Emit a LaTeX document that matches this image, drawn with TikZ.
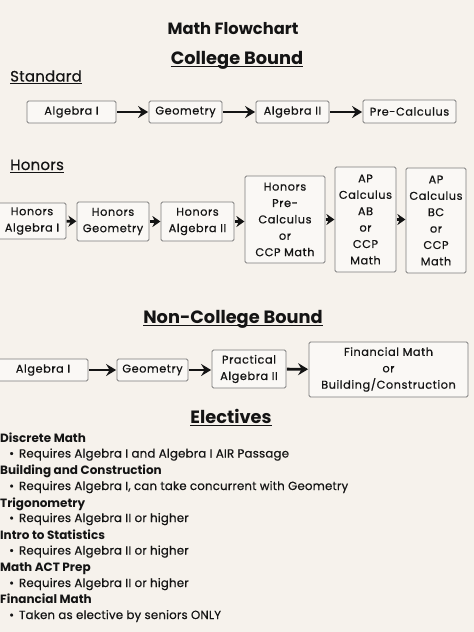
\documentclass[tikz,border=0pt]{standalone}
\usepackage{fontspec}
\setmainfont{Poppins}
\newfontfamily\boxfont[LetterSpace=5,FakeBold=0.6]{Poppins}
\newfontfamily\listfont[LetterSpace=1.5,FakeBold=0.5]{Poppins}
\usetikzlibrary{arrows.meta}
\definecolor{bgc}{RGB}{246,242,236}
\definecolor{boxfill}{RGB}{250,248,245}
\definecolor{boxline}{RGB}{125,125,125}
\definecolor{ink}{RGB}{20,20,20}
\tikzset{
  cbox/.style={draw=boxline, fill=boxfill, line width=0.8pt, rounded corners=1.5pt,
    align=center, inner sep=1pt, text=ink, font=\boxfont\fontsize{11.3}{16.4}\selectfont},
  flow/.style={-{Stealth[length=10pt,width=12pt,inset=3.5pt]}, line width=2.8pt, draw=ink, shorten <=0.5pt, shorten >=0.5pt},
  hflow/.style={-{Stealth[length=8pt,width=11pt,inset=2.5pt]}, line width=2.8pt, draw=ink, shorten <=0.2pt, shorten >=0.2pt},
  title/.style={font=\fontsize{16.3}{18}\bfseries\selectfont, text=ink, inner sep=0pt, anchor=base},
  head/.style={font=\fontsize{17.8}{20}\bfseries\selectfont, text=ink, inner sep=0pt, anchor=base},
  sub/.style={font=\listfont\fontsize{15}{17}\selectfont, text=ink, inner sep=0pt, anchor=base west},
  etitle/.style={font=\fontsize{12}{14}\bfseries\selectfont, text=ink, inner sep=0pt, anchor=base west},
  eitem/.style={font=\listfont\fontsize{11.8}{14}\selectfont, text=ink, inner sep=0pt, anchor=base west},
  uline/.style={draw=ink, line width=1pt},
  uthick/.style={draw=ink, line width=1.4pt}
}
\begin{document}
\begin{tikzpicture}[x=1pt,y=-1pt]
\fill[bgc] (0,0) rectangle (474,632);
\useasboundingbox (0,0) rectangle (474,632);

% titles
\node[title] (mt) at (233,34) {Math Flowchart};
\node[head] (cb) at (237,64) {College Bound};
\draw[uthick] ([yshift=-2.5pt]cb.base west) -- ([yshift=-2.5pt]cb.base east);
\node[sub] (std) at (10,81.5) {Standard};
\draw[uline] ([yshift=-2pt]std.base west) -- ([yshift=-2pt]std.base east);

% standard row
\node[cbox, minimum width=89pt, minimum height=22pt] (s1) at (71.5,112) {Algebra I};
\node[cbox, minimum width=73pt, minimum height=22pt] (s2) at (185.5,112) {Geometry};
\node[cbox, minimum width=73pt, minimum height=22pt] (s3) at (292.5,112) {Algebra II};
\node[cbox, minimum width=93pt, minimum height=23pt] (s4) at (409.5,111.5) {Pre-Calculus};
\draw[flow] (s1) -- (s2);
\draw[flow] (s2) -- (s3);
\draw[flow] (s3) -- (s4.west|-s3.east);

% honors
\node[sub] (hon) at (10,170) {Honors};
\draw[uline] ([yshift=-2pt]hon.base west) -- ([yshift=-2pt]hon.base east);

\node[cbox, minimum width=68pt, minimum height=36pt] (h1) at (32,221) {Honors\\Algebra I};
\node[cbox, minimum width=72pt, minimum height=39pt] (h2) at (113,221.5) {Honors\\Geometry};
\node[cbox, minimum width=73pt, minimum height=39pt] (h3) at (197.5,221.5) {Honors\\Algebra II};
\node[cbox, minimum width=80pt, minimum height=87pt] (h4) at (285,219.5) {Honors\\Pre-\\Calculus\\or\\CCP Math};
\node[cbox, minimum width=61pt, minimum height=105pt] (h5) at (365.5,219.5) {AP\\Calculus\\AB\\or\\CCP\\Math};
\node[cbox, minimum width=60pt, minimum height=105pt] (h6) at (436,220.5) {AP\\Calculus\\BC\\or\\CCP\\Math};
\draw[hflow] (h1) -- (h2);
\draw[hflow] (h2) -- (h3);
\draw[hflow] (h3.east) -- (h4.west|-h3.east);
\draw[hflow] (h4.east) -- (h5.west|-h4.east);
\draw[hflow] (h5.east) -- (h6.west|-h5.east);

% non-college
\node[head] (ncb) at (233,323) {Non-College Bound};
\draw[uthick] ([yshift=-2.5pt]ncb.base west) -- ([yshift=-2.5pt]ncb.base east);

\node[cbox, minimum width=90pt, minimum height=22pt] (n1) at (43,370) {Algebra I};
\node[cbox, minimum width=71pt, minimum height=22pt] (n2) at (152.5,370) {Geometry};
\node[cbox, minimum width=74pt, minimum height=38pt] (n3) at (249,369) {Practical\\Algebra II};
\node[cbox, minimum width=159pt, minimum height=55pt] (n4) at (388.5,369.5) {Financial Math\\or\\Building/Construction};
\draw[flow] (n1) -- (n2);
\draw[flow] (n2) -- (n3.west|-n2.east);
\draw[flow] (n3) -- (n4);

% electives
\node[head] (el) at (231,423) {Electives};
\draw[uthick] ([yshift=-2.5pt]el.base west) -- ([yshift=-2.5pt]el.base east);

\node[etitle] (e1) at (0,442) {Discrete Math};
\node[eitem] (b1) at (9,457.5) {\textbullet\hspace{5pt}Requires Algebra I and Algebra I AIR Passage};
\node[etitle] (e2) at (0,474.5) {Building and Construction};
\node[eitem] (b2) at (9,490) {\textbullet\hspace{5pt}Requires Algebra I, can take concurrent with Geometry};
\node[etitle] (e3) at (0,507) {Trigonometry};
\node[eitem] (b3) at (9,522) {\textbullet\hspace{5pt}Requires Algebra II or higher};
\node[etitle] (e4) at (0,539) {Intro to Statistics};
\node[eitem] (b4) at (9,554.5) {\textbullet\hspace{5pt}Requires Algebra II or higher};
\node[etitle] (e5) at (0,571.5) {Math ACT Prep};
\node[eitem] (b5) at (9,587) {\textbullet\hspace{5pt}Requires Algebra II or higher};
\node[etitle] (e6) at (0,603.5) {Financial Math};
\node[eitem] (b6) at (9,619) {\textbullet\hspace{5pt}Taken as elective by seniors ONLY};
\end{tikzpicture}
\end{document}
